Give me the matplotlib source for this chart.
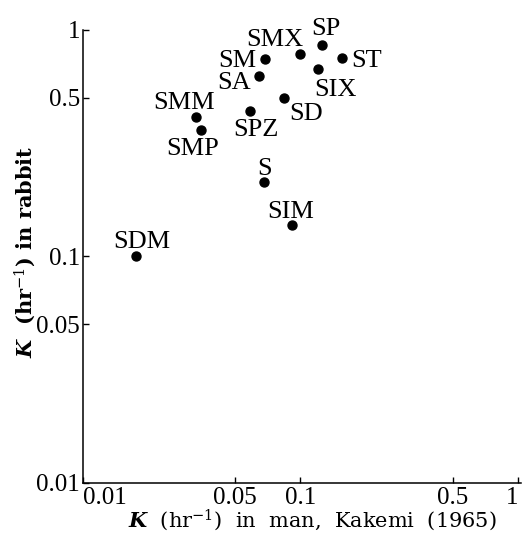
import numpy as np
import matplotlib
matplotlib.use('Agg')
import matplotlib.pyplot as plt
from matplotlib.ticker import FixedLocator, FixedFormatter, NullLocator

# elimination rate constants, sulfonamides
drugs = ['SMX', 'SP', 'ST', 'SM', 'SIX', 'SA', 'SD', 'SPZ', 'SMM', 'SMP', 'S', 'SIM', 'SDM']
k_man = [0.100, 0.126, 0.155, 0.069, 0.121, 0.0647, 0.0844, 0.0583, 0.0332, 0.035, 0.0676, 0.091, 0.0175]
k_rabbit = [0.78, 0.86, 0.75, 0.74, 0.67, 0.625, 0.50, 0.438, 0.412, 0.361, 0.212, 0.137, 0.100]
# label offsets from the dot, in pixels (right, up)
offsets = [(-26, 17), (4, 18), (25, 0), (-28, 1), (17, -18), (-25, -5), (22, -14),
           (6, -17), (-12, 16), (-9, -17), (1, 16), (-1, 16), (6, 17)]

ticks = [0.01, 0.05, 0.1, 0.5, 1]
tick_labels = ['0.01', '0.05', '0.1', '0.5', '1']

plt.rcParams['font.family'] = 'Liberation Serif'
plt.rcParams['mathtext.fontset'] = 'custom'
plt.rcParams['mathtext.rm'] = 'DejaVu Serif'
plt.rcParams['mathtext.it'] = 'DejaVu Serif:italic'
plt.rcParams['mathtext.bf'] = 'DejaVu Serif:bold'
plt.rcParams['mathtext.bfit'] = 'DejaVu Serif:bold:italic'

fig = plt.figure(figsize=(5.22, 5.41), dpi=100)
ax = fig.add_axes([0.159, 0.108, 0.839, 0.837])

ax.scatter(k_man, k_rabbit, s=42, color='black', zorder=3)
for name, x, y, (dx, dy) in zip(drugs, k_man, k_rabbit, offsets):
    ax.annotate(name, (x, y), xytext=(dx, dy), textcoords='offset pixels',
                ha='center', va='center_baseline', fontsize=19)

ax.set_xscale('log')
ax.set_yscale('log')
ax.set_xlim(0.01, 1.032)
ax.set_ylim(0.01, 1.0)

for axis in (ax.xaxis, ax.yaxis):
    axis.set_major_locator(FixedLocator(ticks))
    axis.set_major_formatter(FixedFormatter(tick_labels))
    axis.set_minor_locator(NullLocator())
ax.tick_params(direction='in', length=4, width=1, labelsize=18, pad=2)
ax.tick_params(axis='x', pad=3)
xlabs = ax.get_xticklabels()
xlabs[0].set_horizontalalignment('left')
xlabs[-1].set_horizontalalignment('right')

ax.spines['top'].set_visible(False)
ax.spines['right'].set_visible(False)
ax.spines['left'].set_linewidth(1.1)
ax.spines['bottom'].set_linewidth(1.1)

ax.set_xlabel(r'$\mathbfit{K}$  (hr$^{-1}$)  in  man,  Kakemi  (1965)',
              fontsize=15, family='DejaVu Serif')
ax.set_ylabel(r'$\mathbfit{K}$  (hr$^{-1}$) in rabbit',
              fontsize=15, family='DejaVu Serif', fontweight='bold')
ax.xaxis.set_label_coords(0.523, -0.055, transform=ax.transAxes)
ax.xaxis.label.set_verticalalignment('top')
ax.yaxis.set_label_coords(-0.103, 0.51, transform=ax.transAxes)

fig.savefig('out.png', dpi=100)
